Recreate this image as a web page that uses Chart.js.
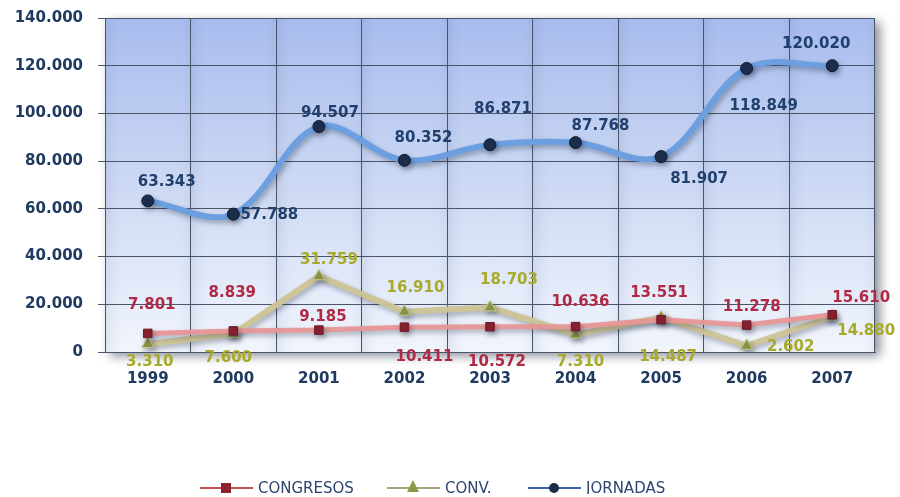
<!DOCTYPE html>
<html>
<head>
<meta charset="utf-8">
<script src="https://cdn.jsdelivr.net/npm/chart.js@4/dist/chart.umd.min.js"></script>
<style>
  html, body { margin: 0; padding: 0; background: #fff; }
  #wrap { width: 900px; height: 497px; }
</style>
</head>
<body>
<div id="wrap"><canvas id="myChart" width="900" height="497"></canvas></div>
<script>
// values
var years = ['1999', '2000', '2001', '2002', '2003', '2004', '2005', '2006', '2007'];
var congresos = [7801, 8839, 9185, 10411, 10572, 10636, 13551, 11278, 15610];
var conv = [3310, 7600, 31759, 16910, 18703, 7310, 14487, 2602, 14880];
var jornadas = [63343, 57788, 94507, 80352, 86871, 87768, 81907, 118849, 120020];
var yTicks = [0, 20000, 40000, 60000, 80000, 100000, 120000, 140000];

// where each value label sits relative to its point (px)
var congresosLbl = [[4,-28],[-1,-38],[4,-13],[20,30],[7,35],[5,-25],[-2,-27],[5,-18],[29,-17]];
var convLbl = [[2,18],[-5,24],[10,-16],[11,-24],[19,-27],[5,28],[7,40],[44,1],[34,15]];
var jornadasLbl = [[19,-19],[36,1],[11,-13],[19,-22],[13,-36],[25,-17],[38,23],[17,38],[-16,-22]];

var FONT = '"DejaVu Sans", Verdana, sans-serif';

function fmt(v){
    return String(v).replace(/\B(?=(\d{3})+(?!\d))/g, '.');
}

var bgPlugin = {
    id: 'bg',
    beforeDraw: function(chart){
        var ctx = chart.ctx, a = chart.chartArea;
        ctx.save();
        ctx.fillStyle = '#ffffff';
        ctx.fillRect(0, 0, chart.width, chart.height);
        // drop shadow
        ctx.shadowColor = 'rgba(40,50,70,0.55)';
        ctx.shadowBlur = 10;
        ctx.shadowOffsetX = 5;
        ctx.shadowOffsetY = 4;
        var g = ctx.createLinearGradient(0, a.top, 0, a.bottom);
        g.addColorStop(0, '#a7bbee');
        g.addColorStop(0.45, '#c9d6f3');
        g.addColorStop(1, '#f1f5fc');
        ctx.fillStyle = g;
        ctx.fillRect(a.left, a.top, a.right - a.left, a.bottom - a.top);
        ctx.restore();
        // soft shading in each column
        ctx.save();
        var n = years.length, w = (a.right - a.left) / n;
        for(var i = 0; i < n; i++){
            var x0 = a.left + i * w;
            var hg = ctx.createLinearGradient(x0, 0, x0 + w, 0);
            hg.addColorStop(0, 'rgba(60,80,130,0.10)');
            hg.addColorStop(0.25, 'rgba(255,255,255,0.0)');
            hg.addColorStop(0.8, 'rgba(255,255,255,0.0)');
            hg.addColorStop(1, 'rgba(60,80,130,0.06)');
            ctx.fillStyle = hg;
            ctx.fillRect(x0, a.top, w, a.bottom - a.top);
        }
        ctx.restore();
    }
};

var shadowPlugin = {
    id: 'lineShadow',
    beforeDatasetDraw: function(chart){
        var ctx = chart.ctx;
        ctx.save();
        ctx.shadowColor = 'rgba(30,40,60,0.35)';
        ctx.shadowBlur = 5;
        ctx.shadowOffsetX = 2;
        ctx.shadowOffsetY = 3;
    },
    afterDatasetDraw: function(chart){
        chart.ctx.restore();
    }
};

var labelPlugin = {
    id: 'valueLabels',
    afterDatasetsDraw: function(chart){
        var ctx = chart.ctx;
        ctx.save();
        ctx.font = 'bold 15px ' + FONT;
        ctx.textAlign = 'center';
        ctx.textBaseline = 'middle';
        chart.data.datasets.forEach(function(ds, di){
            var meta = chart.getDatasetMeta(di);
            meta.data.forEach(function(pt, i){
                var off = ds.lblOffsets[i];
                ctx.fillStyle = ds.lblColor;
                ctx.fillText(fmt(ds.data[i]), pt.x + off[0], pt.y + off[1]);
            });
        });
        ctx.restore();
    }
};

// legend at the bottom: thin line with the marker in the middle, cut by the picture edge
var legendPlugin = {
    id: 'bottomLegend',
    afterDraw: function(chart){
        var ctx = chart.ctx;
        var items = [
            {text: 'CONGRESOS', line: '#c0504d', fill: '#8c2030', style: 'rect', x: 200},
            {text: 'CONV.', line: '#a8a878', fill: '#8c9a45', style: 'triangle', x: 387},
            {text: 'JORNADAS', line: '#3d62b0', fill: '#1c2e4d', style: 'circle', x: 528}
        ];
        var y = 488;
        ctx.save();
        ctx.beginPath();
        ctx.rect(0, 470, chart.width, 24);
        ctx.clip();
        items.forEach(function(it){
            ctx.strokeStyle = it.line;
            ctx.lineWidth = 2;
            ctx.beginPath();
            ctx.moveTo(it.x, y);
            ctx.lineTo(it.x + 53, y);
            ctx.stroke();
            ctx.fillStyle = it.fill;
            ctx.beginPath();
            if(it.style === 'rect'){
                ctx.rect(it.x + 21, y - 5, 10, 10);
            }else if(it.style === 'triangle'){
                ctx.moveTo(it.x + 26, y - 8);
                ctx.lineTo(it.x + 32, y + 4);
                ctx.lineTo(it.x + 20, y + 4);
                ctx.closePath();
            }else{
                ctx.arc(it.x + 26, y, 5, 0, Math.PI * 2);
            }
            ctx.fill();
            ctx.fillStyle = '#2c4570';
            ctx.font = '15px ' + FONT;
            ctx.textAlign = 'left';
            ctx.textBaseline = 'top';
            ctx.fillText(it.text, it.x + 58, 482);
        });
        ctx.restore();
    }
};

var ctx = document.getElementById('myChart');
var myChart = new Chart(ctx, {
    type: 'line',
    data: {
        labels: years,
        datasets: [
            {
                label: 'CONGRESOS',
                data: congresos,
                borderColor: 'rgba(232,150,150,0.95)',
                borderWidth: 5,
                tension: 0,
                pointStyle: 'rect',
                pointRadius: 6,
                pointBackgroundColor: '#8c2030',
                pointBorderColor: '#6e1a26',
                pointBorderWidth: 1,
                lblOffsets: congresosLbl,
                lblColor: '#b02a45'
            },
            {
                label: 'CONV.',
                data: conv,
                borderColor: 'rgba(205,196,150,0.95)',
                borderWidth: 6,
                tension: 0,
                pointStyle: 'triangle',
                pointRadius: 7,
                pointBackgroundColor: '#8c9a45',
                pointBorderColor: '#c8c890',
                pointBorderWidth: 1,
                lblOffsets: convLbl,
                lblColor: '#a9a92a'
            },
            {
                label: 'JORNADAS',
                data: jornadas,
                borderColor: '#6c9fe0',
                borderWidth: 6,
                tension: 0.35,
                pointStyle: 'circle',
                pointRadius: 6,
                pointBackgroundColor: '#1c2e4d',
                pointBorderColor: '#0f1a30',
                pointBorderWidth: 1,
                lblOffsets: jornadasLbl,
                lblColor: '#22406e'
            }
        ]
    },
    options: {
        responsive: false,
        animation: false,
        layout: { padding: { top: 18, right: 25, bottom: 0, left: 0 } },
        plugins: {
            legend: { display: false },
            title: { display: false },
            tooltip: { enabled: false }
        },
        scales: {
            x: {
                offset: true,
                grid: { offset: true, color: '#4a5568', lineWidth: 1, drawTicks: false },
                border: { color: '#4a5568' },
                ticks: { color: '#1f3a60', font: { family: FONT, size: 15, weight: 'bold' }, padding: 18 },
                afterFit: function(scale){ scale.height = 145; }
            },
            y: {
                min: 0,
                max: 140000,
                afterBuildTicks: function(scale){
                    scale.ticks = yTicks.map(function(v){ return {value: v}; });
                },
                grid: { color: '#4a5568', lineWidth: 1, tickLength: 7 },
                border: { color: '#4a5568' },
                ticks: {
                    color: '#1f3a60',
                    font: { family: FONT, size: 15, weight: 'bold' },
                    padding: 15,
                    callback: function(v){ return fmt(v); }
                },
                afterFit: function(scale){
                    scale.width = 105;
                    scale.paddingTop = 0;
                    scale.paddingBottom = 0;
                }
            }
        }
    },
    plugins: [bgPlugin, shadowPlugin, labelPlugin, legendPlugin]
});
</script>
</body>
</html>
